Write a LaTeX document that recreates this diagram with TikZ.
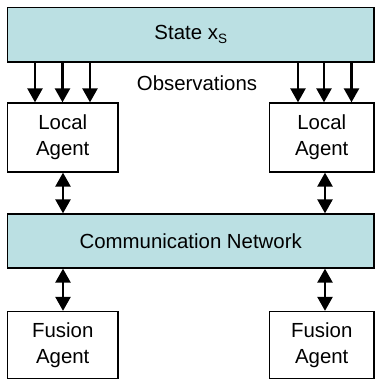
\documentclass[tikz,border=0pt]{standalone}
\usepackage{fontspec}
\setmainfont{Liberation Sans}
\usetikzlibrary{arrows.meta}
\definecolor{panelfill}{HTML}{BBE0E3}
\tikzset{
  txt/.style={font=\fontsize{20.4}{26}\selectfont, align=center, inner sep=0pt},
  panel/.style={txt, draw=black, line width=1.3pt, fill=panelfill},
  agentbox/.style={txt, draw=black, line width=1.3pt, fill=white},
  tipshape/.style={},
  obs/.style={line width=2.5pt, -{Triangle[width=15pt,length=14pt]}},
  link/.style={line width=2.5pt, {Triangle[width=15pt,length=14pt]}-{Triangle[width=15pt,length=14pt]}}
}
\begin{document}
\begin{tikzpicture}[x=1pt,y=-1pt]
\useasboundingbox (0,0) rectangle (377,380);
\clip (0,0) rectangle (377,380);
\node[panel, minimum width=366.5pt, minimum height=54.5pt] (top) at (190.75,34.75)
  {State x\raisebox{-0.35ex}{\fontsize{13.5}{14}\selectfont S}};
\node[agentbox, minimum width=110.5pt, minimum height=69pt] (la) at (62.75,137.5) {Local\\Agent};
\node[agentbox, minimum width=104.5pt, minimum height=69pt] (ra) at (321.75,137.5) {Local\\Agent};
\node[panel, minimum width=366.5pt, minimum height=54pt] (net) at (190.75,241) {Communication Network};
\node[agentbox, minimum width=110.5pt, minimum height=67pt] (lf) at (62.75,345) {Fusion\\Agent};
\node[agentbox, minimum width=104.5pt, minimum height=67pt] (rf) at (321.75,345) {Fusion\\Agent};
\node[txt] (obslabel) at (197,83) {Observations};
\coordinate (o1) at (35,0);
\coordinate (o2) at (62.5,0);
\coordinate (o3) at (90,0);
\coordinate (o4) at (298,0);
\coordinate (o5) at (324,0);
\coordinate (o6) at (351.5,0);
\coordinate (dl) at (63,0);
\coordinate (dr) at (325,0);
\foreach \c in {o1,o2,o3} \draw[obs] (top.south -| \c) -- (la.north -| \c);
\foreach \c in {o4,o5,o6} \draw[obs] (top.south -| \c) -- (ra.north -| \c);
\draw[link] (la.south -| dl) -- (net.north -| dl);
\draw[link] (ra.south -| dr) -- (net.north -| dr);
\draw[link] (net.south -| dl) -- (lf.north -| dl);
\draw[link] (net.south -| dr) -- (rf.north -| dr);
\end{tikzpicture}
\end{document}
